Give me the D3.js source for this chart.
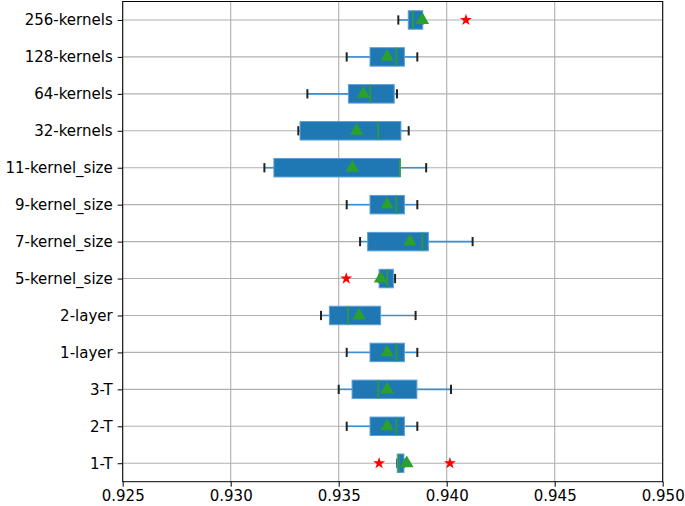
<!DOCTYPE html>
<html>
<head>
<meta charset="utf-8">
<script src="https://cdn.jsdelivr.net/npm/d3@7"></script>
<style>
  body { margin: 0; background: #fff; }
  svg { display: block; }
  text { font-family: "DejaVu Sans", sans-serif; fill: #000; }
</style>
</head>
<body>
<div id="chart"></div>
<script>
// categories listed top to bottom as they appear
var categories = ["256-kernels", "128-kernels", "64-kernels", "32-kernels", "11-kernel_size",
    "9-kernel_size", "7-kernel_size", "5-kernel_size", "2-layer", "1-layer", "3-T", "2-T", "1-T"];
var whiskerLow = [0.93776, 0.93537, 0.93355, 0.93313, 0.93156, 0.93537, 0.93599, 0.93687, 0.93418, 0.93537, 0.93500, 0.93537, 0.93771];
var q1 = [0.93822, 0.93645, 0.93545, 0.93321, 0.93200, 0.93645, 0.93634, 0.93687, 0.93457, 0.93645, 0.93562, 0.93645, 0.93771];
var medians = [0.93843, 0.93767, 0.93646, 0.93683, 0.93784, 0.93767, 0.93887, 0.93725, 0.93543, 0.93767, 0.93683, 0.93767, 0.93781];
var q3 = [0.93889, 0.93804, 0.93757, 0.93788, 0.93784, 0.93804, 0.93915, 0.93753, 0.93694, 0.93804, 0.93862, 0.93804, 0.93802];
var whiskerHigh = [0.93889, 0.93864, 0.93770, 0.93824, 0.93905, 0.93864, 0.94120, 0.93761, 0.93856, 0.93864, 0.94020, 0.93864, 0.93802];
var means = [0.93887, 0.93724, 0.93614, 0.93583, 0.93563, 0.93724, 0.93830, 0.93694, 0.93594, 0.93724, 0.93724, 0.93724, 0.93815];
var outliers = [[0.94089], [], [], [], [], [], [], [0.93535], [], [], [], [], [0.93687, 0.94015]];
var xTicks = [0.925, 0.930, 0.935, 0.940, 0.945, 0.950];

var width = 685,
    height = 506,
    margin = { top: 1.5, right: 22.3, bottom: 24.3, left: 122.7 };

var data = categories.map(function (c, i) {
    return {
        name: c, lo: whiskerLow[i], q1: q1[i], med: medians[i], q3: q3[i],
        hi: whiskerHigh[i], mean: means[i], fliers: outliers[i]
    };
});

var svg = d3.select("#chart").append("svg")
    .attr("width", width)
    .attr("height", height);

var x = d3.scaleLinear()
    .domain([0.925, 0.950])
    .range([margin.left, width - margin.right]);

var y = d3.scalePoint()
    .domain(categories)
    .range([margin.top, height - margin.bottom])
    .padding(0.5);

var boxH = y.step() * 0.5; // matplotlib default widths=0.5
var capH = boxH * 0.5;

// grid lines
var grid = svg.append("g").attr("stroke", "#b0b0b0").attr("stroke-width", 1.1);
grid.selectAll("line.gx").data(xTicks).enter().append("line")
    .attr("x1", d => x(d)).attr("x2", d => x(d))
    .attr("y1", margin.top).attr("y2", height - margin.bottom);
grid.selectAll("line.gy").data(categories).enter().append("line")
    .attr("x1", margin.left).attr("x2", width - margin.right)
    .attr("y1", d => y(d)).attr("y2", d => y(d));

var rows = svg.selectAll("g.row").data(data).enter().append("g")
    .attr("class", "row")
    .attr("transform", d => "translate(0," + y(d.name) + ")");

// whiskers
rows.append("line")
    .attr("x1", d => x(d.lo)).attr("x2", d => x(d.q1))
    .attr("stroke", "#3d8ed0").attr("stroke-width", 1.6);
rows.append("line")
    .attr("x1", d => x(d.q3)).attr("x2", d => x(d.hi))
    .attr("stroke", "#3d8ed0").attr("stroke-width", 1.6);

// caps
rows.selectAll("line.cap")
    .data(d => [d.lo, d.hi])
    .enter().append("line")
    .attr("class", "cap")
    .attr("x1", v => x(v)).attr("x2", v => x(v))
    .attr("y1", -capH / 2).attr("y2", capH / 2)
    .attr("stroke", "#222").attr("stroke-width", 2);

// boxes
rows.append("rect")
    .attr("x", d => x(d.q1))
    .attr("y", -boxH / 2)
    .attr("width", d => Math.max(0, x(d.q3) - x(d.q1)))
    .attr("height", boxH)
    .attr("fill", "#1f77b4")
    .attr("stroke", "#5a9fd8")
    .attr("stroke-width", 1);

// medians
rows.append("line")
    .attr("x1", d => x(d.med)).attr("x2", d => x(d.med))
    .attr("y1", -boxH / 2).attr("y2", boxH / 2)
    .attr("stroke", "#2ca02c").attr("stroke-width", 1.6);

// means (triangles)
var tri = d3.symbol().type(d3.symbolTriangle).size(80);
rows.append("path")
    .attr("d", tri)
    .attr("transform", d => "translate(" + x(d.mean) + ",0)")
    .attr("fill", "#2ca02c");

// outliers (red stars)
var star = d3.symbol().type(d3.symbolStar).size(45);
rows.selectAll("path.flier")
    .data(d => d.fliers)
    .enter().append("path")
    .attr("class", "flier")
    .attr("d", star)
    .attr("transform", v => "translate(" + x(v) + ",0)")
    .attr("fill", "#ff0000");

// axes
var xAxis = svg.append("g")
    .attr("transform", "translate(0," + (height - margin.bottom) + ")")
    .call(d3.axisBottom(x).tickValues(xTicks).tickFormat(d3.format(".3f")).tickSize(5).tickPadding(4).tickSizeOuter(0));
var yAxis = svg.append("g")
    .attr("transform", "translate(" + margin.left + ",0)")
    .call(d3.axisLeft(y).tickSize(5).tickPadding(5).tickSizeOuter(0));

[xAxis, yAxis].forEach(function (a) {
    a.select(".domain").remove();
    a.selectAll("line").attr("stroke", "#000").attr("stroke-width", 1);
    a.selectAll("text").style("font-size", "15px").style("font-family", "DejaVu Sans");
});

// frame
svg.append("rect")
    .attr("x", margin.left).attr("y", margin.top)
    .attr("width", width - margin.left - margin.right)
    .attr("height", height - margin.top - margin.bottom)
    .attr("fill", "none").attr("stroke", "#000").attr("stroke-width", 1);
</script>
</body>
</html>
